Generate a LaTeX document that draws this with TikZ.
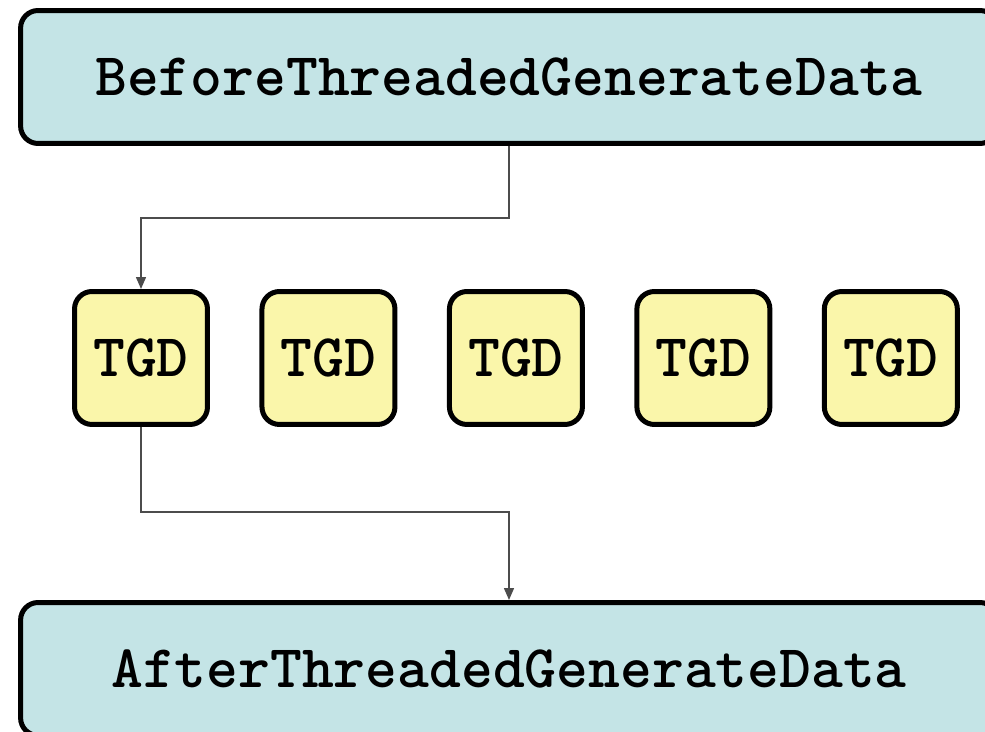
\documentclass[tikz,border=0pt]{standalone}
\usepackage{fontspec}
\usetikzlibrary{%
    arrows.meta,
    positioning
}
\definecolor{stageblue}{HTML}{C4E4E6}
\definecolor{threadyellow}{HTML}{FAF6AA}
\tikzset{stagebox/.style = {draw, line width=0.1cm, rounded corners=0.35cm, fill=stageblue,
    minimum width=19.54cm, minimum height=2.66cm,
    font=\ttfamily\bfseries\fontsize{34.5}{40}\selectfont}}
\tikzset{threadbox/.style = {draw, line width=0.1cm, rounded corners=0.35cm, fill=threadyellow,
    minimum width=2.66cm, minimum height=2.66cm, inner sep=0pt,
    font=\ttfamily\bfseries\fontsize{34.5}{40}\selectfont}}
\tikzset{flowarrow/.style = {draw=black!70, line width=0.03cm, -{Triangle[length=0.24cm, width=0.2cm]}}}

\begin{document}
\begin{tikzpicture}[x=0.02cm, y=-0.02cm]
    \useasboundingbox (0,0) rectangle (985,732);

    % stages
    \node[stagebox] (before) at (509,77) {BeforeThreadedGenerateData};
    \node[stagebox] (after) at (509,669) {AfterThreadedGenerateData};

    % threads
    \node[threadbox] (tgd1) at (141,358) {TGD};
    \foreach \Prev/\Next in {1/2, 2/3, 3/4, 4/5}
        \node[threadbox] (tgd\Next) [right=0.99cm of tgd\Prev] {TGD};

    % edges
    \draw[flowarrow] (before.south) -- ++(0,72) -| (tgd1.north);
    \draw[flowarrow] (tgd1.south) -- ++(0,85) -| (after.north);
\end{tikzpicture}
\end{document}
